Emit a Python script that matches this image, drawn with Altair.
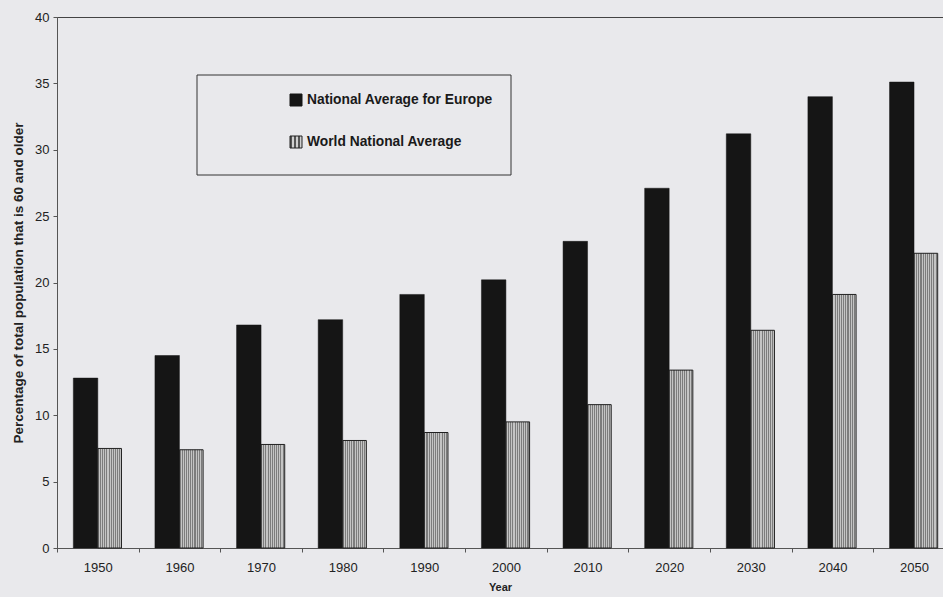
import altair as alt
import pandas as pd

# Share of the population aged 60 and older, by decade
years = [1950, 1960, 1970, 1980, 1990, 2000, 2010, 2020, 2030, 2040, 2050]
europe = [12.8, 14.5, 16.8, 17.2, 19.1, 20.2, 23.1, 27.1, 31.2, 34.0, 35.1]
world = [7.5, 7.4, 7.8, 8.1, 8.7, 9.5, 10.8, 13.4, 16.4, 19.1, 22.2]
series = ["National Average for Europe", "World National Average"]
y_ticks = [0, 5, 10, 15, 20, 25, 30, 35, 40]

BG = "#e9e9ec"
DARK = "#151515"
FONT = "Liberation Sans"


def stripes(n, dark="#7c7c7c", light="#c4c4c4"):
    """Vertical hatch as a horizontal linear gradient with hard stops."""
    stops = []
    for i in range(n):
        a, m, b = i / n, (i + 0.5) / n, (i + 1) / n
        stops += [
            {"offset": a, "color": dark},
            {"offset": m, "color": dark},
            {"offset": m, "color": light},
            {"offset": b, "color": light},
        ]
    return {"gradient": "linear", "x1": 0, "y1": 0, "x2": 1, "y2": 0, "stops": stops}


df = pd.DataFrame({"year": years, "europe": europe, "world": world})

x_scale = alt.Scale(domain=[1945, 2053.55], nice=False, zero=False)
y_scale = alt.Scale(domain=[0, 40], nice=False)

base = alt.Chart(df).transform_calculate(
    eu_left="datum.year - 3.0",
    w_right="datum.year + 2.9",
)

x_axis = alt.Axis(
    values=list(range(1945, 2055, 5)),
    format="d",
    labelExpr="datum.value % 10 == 0 ? datum.label : ''",
    tickOpacity={"condition": {"test": "datum.value % 10 == 5", "value": 1}, "value": 0},
    tickSize=4,
    tickColor="#555",
    domainColor="#555",
    labelFont=FONT,
    labelFontSize=13,
    labelColor="#222",
    labelPadding=9,
    grid=False,
    title="Year",
    titleFont=FONT,
    titleFontSize=11,
    titleFontWeight="bold",
    titleColor="#222",
    titlePadding=7,
)

y_axis = alt.Axis(
    values=y_ticks,
    tickSize=4,
    tickColor="#555",
    domainColor="#555",
    labelFont=FONT,
    labelFontSize=13,
    labelColor="#222",
    labelPadding=4,
    grid=False,
    title="Percentage of total population that is 60 and older",
    titleFont=FONT,
    titleFontSize=13.5,
    titleFontWeight="bold",
    titleColor="#222",
    titlePadding=9,
)

europe_bars = base.mark_bar(fill=DARK, stroke=DARK, strokeWidth=0.5).encode(
    x=alt.X("eu_left:Q", scale=x_scale, axis=x_axis),
    x2="year:Q",
    y=alt.Y("europe:Q", scale=y_scale, axis=y_axis),
    y2=alt.datum(0),
)

world_bars = base.mark_bar(fill=stripes(11), stroke="#202020", strokeWidth=1).encode(
    x=alt.X("year:Q", scale=x_scale),
    x2="w_right:Q",
    y=alt.Y("world:Q", scale=y_scale),
    y2=alt.datum(0),
)

# Legend panel
one = "datum.year == 1950"

legend_box = alt.Chart(df).mark_rect(
    fill=BG, stroke="#333", strokeWidth=1
).encode(
    x=alt.value(140), x2=alt.value(454), y=alt.value(58), y2=alt.value(158)
).transform_filter(one)

sw_europe = alt.Chart(df).mark_rect(fill=DARK, stroke=DARK).encode(
    x=alt.value(233), x2=alt.value(245), y=alt.value(77), y2=alt.value(89)
).transform_filter(one)

sw_world = alt.Chart(df).mark_rect(fill=stripes(3, "#555", "#d0d0d0"), stroke="#222").encode(
    x=alt.value(233), x2=alt.value(245), y=alt.value(119), y2=alt.value(131)
).transform_filter(one)

text_style = dict(
    align="left", baseline="middle", font=FONT, fontSize=13.8, fontWeight="bold", color="#1a1a1a"
)

lab_europe = alt.Chart(df).mark_text(**text_style).encode(
    x=alt.value(250), y=alt.value(83), text=alt.value(series[0])
).transform_filter(one)

lab_world = alt.Chart(df).mark_text(**text_style).encode(
    x=alt.value(250), y=alt.value(125), text=alt.value(series[1])
).transform_filter(one)

chart = alt.layer(
    europe_bars, world_bars, legend_box, sw_europe, sw_world, lab_europe, lab_world
).properties(
    width=886,
    height=531,
    background=BG,
    autosize=alt.AutoSizeParams(type="none"),
    padding={"left": 57, "top": 17, "right": 0, "bottom": 49},
).configure_view(
    stroke="#444", strokeWidth=1, fill=BG
)

chart.save("out.html", embed_options={"renderer": "svg", "actions": False})
